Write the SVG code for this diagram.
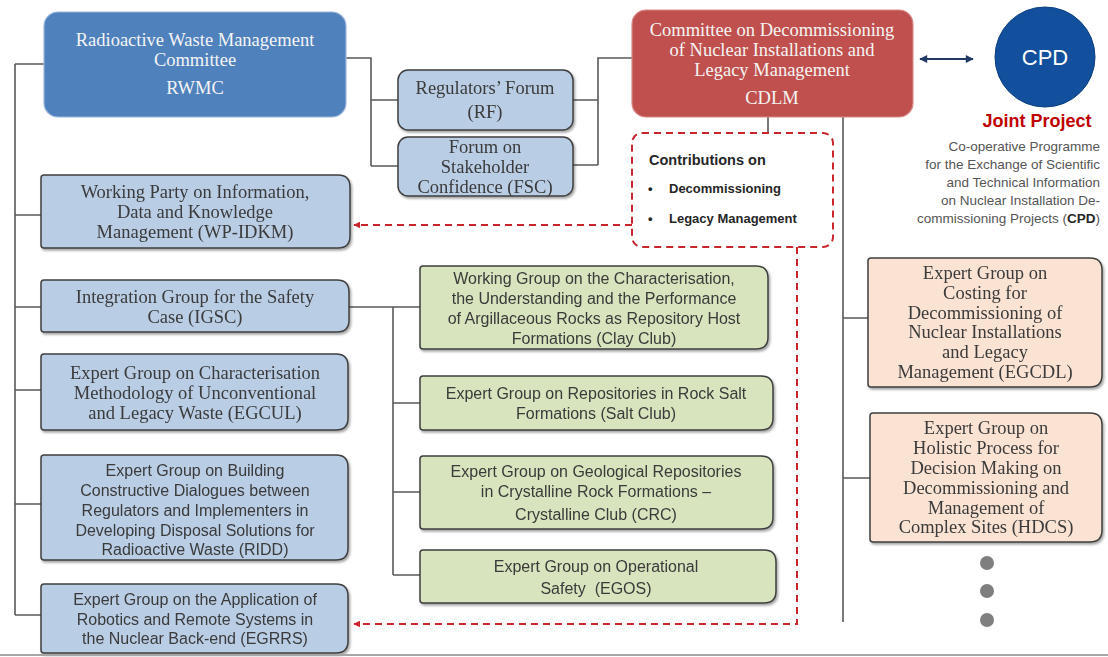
<svg xmlns="http://www.w3.org/2000/svg" width="1108" height="657" viewBox="0 0 1108 657">
<defs>
<style>
.serif{font-family:"Liberation Serif","Times New Roman",serif;font-size:18.5px;fill:#3a3a3a;text-anchor:middle}
.serifw{font-family:"Liberation Serif","Times New Roman",serif;font-size:18.5px;fill:#f4f4f4;text-anchor:middle}
.sans{font-family:"Liberation Sans",Arial,sans-serif;font-size:16px;fill:#3a3a3a;text-anchor:middle}
.blue{fill:#b9cde5;stroke:#3f3f3f;stroke-width:1.5}
.green{fill:#d7e4bd;stroke:#3f3f3f;stroke-width:1.5}
.peach{fill:#fbe3d4;stroke:#3f3f3f;stroke-width:1.5}
.conn{fill:none;stroke:#595959;stroke-width:1.6}
.red{fill:none;stroke:#c9252c;stroke-width:2;stroke-dasharray:7 5}
.desc{font-family:"Liberation Sans",Arial,sans-serif;font-size:13.5px;fill:#555;text-anchor:end}
.contrib{font-family:"Liberation Sans",Arial,sans-serif;font-weight:bold;fill:#262626}
</style>
<filter id="sh" x="-5%" y="-5%" width="112%" height="120%">
<feDropShadow dx="1.5" dy="2" stdDeviation="1.2" flood-color="#000" flood-opacity="0.35"/>
</filter>
<marker id="ar" viewBox="0 0 10 10" refX="9" refY="5" markerWidth="7" markerHeight="7" orient="auto-start-reverse" markerUnits="userSpaceOnUse">
<path d="M0,0 L10,5 L0,10 Z" fill="#c9252c"/>
</marker>
<marker id="an" viewBox="0 0 10 10" refX="9" refY="5" markerWidth="9" markerHeight="8" orient="auto-start-reverse" markerUnits="userSpaceOnUse">
<path d="M0,0 L10,5 L0,10 Z" fill="#1f3864"/>
</marker>
</defs>
<rect width="1108" height="657" fill="#ffffff"/>

<g id="connectors">
<path class="conn" d="M15,64 V615 M15,64 H44 M15,215 H41 M15,307 H41 M15,390 H41 M15,504 H41 M15,615 H41"/>
<path class="conn" d="M346,58 H371 V166 M371,100 H398 M371,166 H398"/>
<path class="conn" d="M573,100 H598 M573,165 H598 M598,165 V58 H632"/>
<path class="conn" d="M349,307 H420 M393,307 V575 M393,403 H420 M393,492 H420 M393,575 H420"/>
<path class="conn" d="M768,117 V133 M843,117 V622 M843,318 H868 M843,478 H870"/>
<path d="M920,59 H973" fill="none" stroke="#1f3864" stroke-width="2" marker-start="url(#an)" marker-end="url(#an)"/>
<path class="red" d="M632,225 H354" marker-end="url(#ar)"/>
<path class="red" d="M797,247 V624 H354" marker-end="url(#ar)"/>
</g>

<g id="rwmc">
<rect x="44" y="12" width="302" height="105" rx="14" fill="#4f81bd" stroke="#9db7da" stroke-width="1.2"/>
<text class="serifw" x="195" y="46">Radioactive Waste Management</text>
<text class="serifw" x="195" y="66">Committee</text>
<text class="serifw" x="195" y="94">RWMC</text>
</g>

<g id="cdlm">
<rect x="632" y="10" width="281" height="107" rx="14" fill="#c0504d" stroke="#d88a88" stroke-width="1.2"/>
<text class="serifw" x="772" y="36">Committee on Decommissioning</text>
<text class="serifw" x="772" y="56">of Nuclear Installations and</text>
<text class="serifw" x="772" y="76">Legacy Management</text>
<text class="serifw" x="772" y="104">CDLM</text>
</g>

<g id="cpd">
<circle cx="1045" cy="57" r="50" fill="#124f9c" stroke="#0d3f80" stroke-width="1"/>
<text x="1045" y="65" font-family="Liberation Sans, Arial, sans-serif" font-size="22" fill="#ffffff" text-anchor="middle">CPD</text>
<text x="1037" y="127" font-family="Liberation Sans, Arial, sans-serif" font-size="18" font-weight="bold" fill="#c00000" text-anchor="middle">Joint Project</text>
<text class="desc" x="1100" y="151">Co-operative Programme</text>
<text class="desc" x="1100" y="169">for the Exchange of Scientific</text>
<text class="desc" x="1100" y="187">and Technical Information</text>
<text class="desc" x="1100" y="205">on Nuclear Installation De-</text>
<text class="desc" x="1100" y="223">commissioning Projects (<tspan font-weight="bold" fill="#262626">CPD</tspan>)</text>
</g>

<g id="rf" filter="url(#sh)">
<rect class="blue" x="398" y="70" width="175" height="60" rx="10"/>
<text class="serif" x="485" y="94">Regulators’ Forum</text>
<text class="serif" x="485" y="118">(RF)</text>
</g>

<g id="fsc" filter="url(#sh)">
<rect class="blue" x="398" y="137" width="175" height="59" rx="10"/>
<text class="serif" x="485" y="153">Forum on</text>
<text class="serif" x="485" y="173">Stakeholder</text>
<text class="serif" x="485" y="193">Confidence (FSC)</text>
</g>

<g id="contributions">
<rect class="red" x="632" y="133" width="201" height="114" rx="10"/>
<text class="contrib" x="649" y="165" font-size="14.5">Contributions on</text>
<text class="contrib" x="648" y="193" font-size="13">•</text>
<text class="contrib" x="669" y="193" font-size="13">Decommissioning</text>
<text class="contrib" x="648" y="223" font-size="13">•</text>
<text class="contrib" x="669" y="223" font-size="13">Legacy Management</text>
</g>

<g id="wpidkm" filter="url(#sh)">
<path class="blue" d="M44,175 H338 Q350,175 350,187 V236 Q350,248 338,248 H44 Q41,248 41,245 V178 Q41,175 44,175 Z"/>
<text class="serif" x="195" y="198">Working Party on Information,</text>
<text class="serif" x="195" y="218">Data and Knowledge</text>
<text class="serif" x="195" y="238">Management (WP-IDKM)</text>
</g>

<g id="igsc" filter="url(#sh)">
<path class="blue" d="M44,280 H337 Q349,280 349,292 V320 Q349,332 337,332 H44 Q41,332 41,329 V283 Q41,280 44,280 Z"/>
<text class="serif" x="195" y="303">Integration Group for the Safety</text>
<text class="serif" x="195" y="323">Case (IGSC)</text>
</g>

<g id="egcul" filter="url(#sh)">
<path class="blue" d="M44,354 H336 Q348,354 348,366 V418 Q348,430 336,430 H44 Q41,430 41,427 V357 Q41,354 44,354 Z"/>
<text class="serif" x="195" y="379">Expert Group on Characterisation</text>
<text class="serif" x="195" y="399">Methodology of Unconventional</text>
<text class="serif" x="195" y="419">and Legacy Waste (EGCUL)</text>
</g>

<g id="ridd" filter="url(#sh)">
<path class="blue" d="M44,455 H336 Q348,455 348,467 V548 Q348,560 336,560 H44 Q41,560 41,557 V458 Q41,455 44,455 Z"/>
<text class="sans" x="195" y="476">Expert Group on Building</text>
<text class="sans" x="195" y="496">Constructive Dialogues between</text>
<text class="sans" x="195" y="516">Regulators and Implementers in</text>
<text class="sans" x="195" y="536">Developing Disposal Solutions for</text>
<text class="sans" x="195" y="555">Radioactive Waste (RIDD)</text>
</g>

<g id="egrrs" filter="url(#sh)">
<path class="blue" d="M44,584 H336 Q348,584 348,596 V641 Q348,653 336,653 H44 Q41,653 41,650 V587 Q41,584 44,584 Z"/>
<text class="sans" x="195" y="605">Expert Group on the Application of</text>
<text class="sans" x="195" y="625">Robotics and Remote Systems in</text>
<text class="sans" x="195" y="644">the Nuclear Back-end (EGRRS)</text>
</g>

<g id="clayclub" filter="url(#sh)">
<path class="green" d="M423,266 H756 Q768,266 768,278 V337 Q768,349 756,349 H423 Q420,349 420,346 V269 Q420,266 423,266 Z"/>
<text class="sans" x="594" y="284">Working Group on the Characterisation,</text>
<text class="sans" x="594" y="304">the Understanding and the Performance</text>
<text class="sans" x="594" y="324">of Argillaceous Rocks as Repository Host</text>
<text class="sans" x="594" y="344">Formations (Clay Club)</text>
</g>

<g id="saltclub" filter="url(#sh)">
<path class="green" d="M423,376 H761 Q773,376 773,388 V418 Q773,430 761,430 H423 Q420,430 420,427 V379 Q420,376 423,376 Z"/>
<text class="sans" x="596" y="399">Expert Group on Repositories in Rock Salt</text>
<text class="sans" x="596" y="419">Formations (Salt Club)</text>
</g>

<g id="crc" filter="url(#sh)">
<path class="green" d="M423,456 H761 Q773,456 773,468 V517 Q773,529 761,529 H423 Q420,529 420,526 V459 Q420,456 423,456 Z"/>
<text class="sans" x="596" y="477">Expert Group on Geological Repositories</text>
<text class="sans" x="596" y="497">in Crystalline Rock Formations –</text>
<text class="sans" x="596" y="520">Crystalline Club (CRC)</text>
</g>

<g id="egos" filter="url(#sh)">
<path class="green" d="M423,550 H764 Q776,550 776,562 V591 Q776,603 764,603 H423 Q420,603 420,600 V553 Q420,550 423,550 Z"/>
<text class="sans" x="596" y="572">Expert Group on Operational</text>
<text class="sans" x="596" y="594" xml:space="preserve">Safety  (EGOS)</text>
</g>

<g id="egcdl" filter="url(#sh)">
<path class="peach" d="M871,258 H1090 Q1102,258 1102,270 V375 Q1102,387 1090,387 H871 Q868,387 868,384 V261 Q868,258 871,258 Z"/>
<text class="serif" x="985" y="279">Expert Group on</text>
<text class="serif" x="985" y="299">Costing for</text>
<text class="serif" x="985" y="319">Decommissioning of</text>
<text class="serif" x="985" y="338">Nuclear Installations</text>
<text class="serif" x="985" y="358">and Legacy</text>
<text class="serif" x="985" y="378">Management (EGCDL)</text>
</g>

<g id="hdcs" filter="url(#sh)">
<path class="peach" d="M873,413 H1090 Q1102,413 1102,425 V530 Q1102,542 1090,542 H873 Q870,542 870,539 V416 Q870,413 873,413 Z"/>
<text class="serif" x="986" y="434">Expert Group on</text>
<text class="serif" x="986" y="454">Holistic Process for</text>
<text class="serif" x="986" y="474">Decision Making on</text>
<text class="serif" x="986" y="494">Decommissioning and</text>
<text class="serif" x="986" y="514">Management of</text>
<text class="serif" x="986" y="533">Complex Sites (HDCS)</text>
</g>

<g id="more">
<circle cx="987" cy="563" r="7" fill="#7f7f7f"/>
<circle cx="987" cy="591" r="7" fill="#7f7f7f"/>
<circle cx="987" cy="620" r="7" fill="#7f7f7f"/>
</g>

<line x1="0" y1="655" x2="1108" y2="655" stroke="#a6a6a6" stroke-width="2"/>
</svg>
